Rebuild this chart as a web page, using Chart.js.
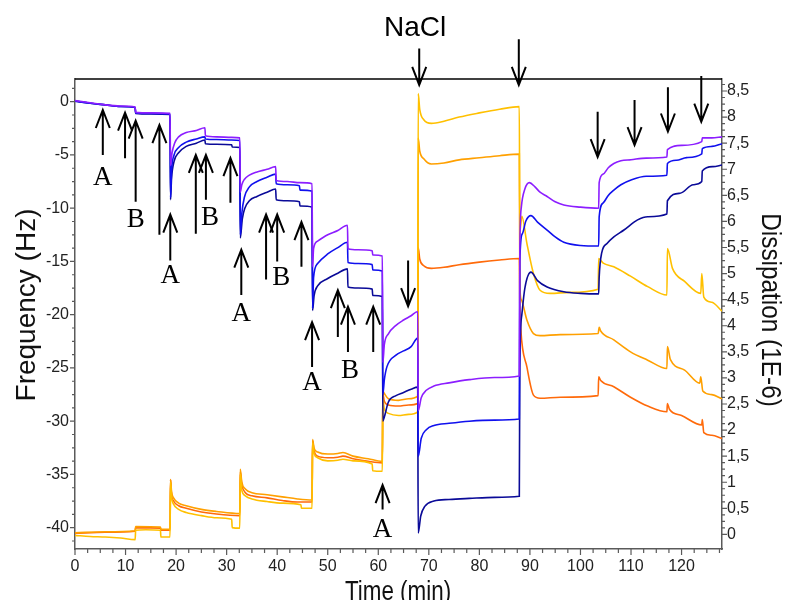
<!DOCTYPE html>
<html lang="en">
<head>
<meta charset="UTF-8">
<title>QCM-D Frequency / Dissipation</title>
<script src="https://cdn.jsdelivr.net/npm/chart.js"></script>
<style>
  html, body { margin: 0; padding: 0; background: #fff; }
  #wrap { width: 787px; height: 600px; }
</style>
</head>
<body>
<div id="wrap"><canvas id="qcm" width="787" height="600"></canvas></div>
<script>
  // axis labels
  const timeTicks = [0, 10, 20, 30, 40, 50, 60, 70, 80, 90, 100, 110, 120];
  const freqTicks = [0, -5, -10, -15, -20, -25, -30, -35, -40];
  const dissTicks = [0, 0.5, 1, 1.5, 2, 2.5, 3, 3.5, 4, 4.5, 5, 5.5, 6, 6.5, 7, 7.5, 8, 8.5];

  // frequency (Hz) vs time (min)
  const freqPurple = [[0,0.1],[3,-0.1],[6,-0.3],[9,-0.4],[11.9,-0.5],[12.0,-1.0],[15,-1.05],[18.8,-1.1],
    [18.9,-6.0],[19.2,-4.8],[19.7,-3.9],[20.5,-3.3],[22,-2.9],[24,-2.7],[25.7,-2.45],[25.8,-3.2],[28,-3.3],[31,-3.35],[32.6,-3.4],
    [32.7,-8.5],[33.0,-7.8],[33.5,-7.3],[34.5,-6.9],[36,-6.6],[38,-6.35],[39.7,-6.1],[39.8,-7.4],[42,-7.5],[44.5,-7.6],[46.9,-7.7],
    [47.0,-15.5],[47.2,-13.8],[48,-13.1],[50,-12.5],[52,-12.1],[53.9,-11.6],[54.0,-13.8],[56,-13.9],[58.8,-14.0],[58.9,-14.4],[60.8,-14.5],
    [60.9,-24.5],[61.2,-22.8],[62,-21.8],[63.5,-21.0],[65,-20.5],[66.5,-20.1],[67.8,-19.7],
    [67.9,-29.0],[68.5,-27.8],[69.5,-27.1],[71,-26.7],[74,-26.4],[78,-26.1],[83,-25.9],[87.9,-25.75],
    [88.0,-14],[88.3,-9.9],[89,-8.2],[89.9,-7.6],[91,-8.0],[92,-8.5],[93.4,-8.9],[95,-9.4],[96.7,-9.7],[100,-9.9],[103.6,-10.0],
    [103.7,-7.6],[104.5,-6.8],[105.5,-6.2],[106.6,-5.8],[108,-5.55],[110,-5.45],[113,-5.3],[117.1,-5.2],[117.2,-4.5],[120,-4.1],[124,-3.75],[124.1,-3.4],[126,-3.4],[128,-3.3]];

  const freqBlue = [[0,0.05],[3,-0.15],[6,-0.3],[9,-0.45],[11.9,-0.55],[12.0,-1.05],[15,-1.1],[18.8,-1.15],
    [18.9,-9.0],[19.1,-6.5],[19.6,-5.0],[20.5,-4.3],[22,-3.8],[24,-3.5],[25.7,-3.3],[25.8,-3.5],[28,-3.55],[31,-3.6],[32.6,-3.65],
    [32.7,-12.5],[33.0,-10.5],[33.5,-9.0],[34.5,-8.0],[36,-7.5],[38,-7.1],[39.7,-6.8],[39.8,-7.7],[42,-7.8],[44.4,-7.9],[44.5,-8.3],[46.9,-8.4],
    [47.0,-19.4],[47.2,-16.5],[48,-15.2],[50,-14.3],[52,-13.7],[53.9,-13.2],[54.0,-15.1],[56,-15.2],[58.8,-15.3],[58.9,-15.8],[60.8,-15.9],
    [60.9,-27.5],[61.2,-26.1],[61.7,-24.9],[63.5,-23.8],[65,-23.4],[66.5,-23.0],[67.8,-22.2],
    [67.9,-33.3],[68.5,-31.6],[69.5,-30.8],[71,-30.4],[74,-30.2],[78,-30.0],[83,-29.9],[87.9,-29.8],
    [88.0,-15],[88.5,-12.4],[89.2,-11.2],[90.2,-10.7],[91.5,-11.3],[93.4,-12.05],[95,-12.7],[96.7,-13.2],[100,-13.5],[103.6,-13.55],
    [103.7,-10.8],[104.5,-9.5],[105.5,-8.8],[106.6,-8.3],[108,-7.8],[110,-7.35],[113,-7.0],[117.1,-6.9],[117.2,-5.8],[119,-5.5],[121,-5.25],[124,-4.9],[124.1,-4.4],[126,-4.2],[128,-3.95]];

  const freqNavy = [[0,0.05],[3,-0.15],[6,-0.3],[9,-0.45],[11.9,-0.55],[12.0,-1.1],[15,-1.15],[18.8,-1.2],
    [18.9,-9.2],[19.1,-7.2],[19.6,-5.6],[20.5,-4.8],[22,-4.2],[24,-3.9],[25.7,-3.6],[25.8,-3.95],[28,-4.0],[31,-4.05],[31.1,-4.25],[32.6,-4.3],
    [32.7,-12.8],[33.1,-11.0],[33.6,-10.0],[34.5,-9.3],[36,-8.9],[38,-8.5],[39.7,-8.2],[39.8,-9.2],[42,-9.3],[44.4,-9.4],[44.5,-9.8],[46.9,-9.9],
    [47.0,-19.6],[47.3,-18.2],[48,-17.3],[50,-16.6],[52,-16.1],[53.9,-15.7],[54.0,-17.4],[56,-17.5],[58.8,-17.6],[58.9,-18.2],[60.8,-18.3],
    [60.9,-30.0],[61.2,-29.6],[62,-28.2],[63.5,-27.6],[65,-27.3],[66.5,-27.0],[67.8,-26.8],
    [67.9,-40.5],[68.4,-38.9],[69.2,-38.0],[71,-37.5],[74,-37.35],[78,-37.25],[83,-37.15],[87.9,-37.05],
    [88.0,-25],[88.4,-20],[89,-17.5],[90.2,-16.0],[91.5,-16.8],[93.4,-17.4],[96.7,-17.85],[100,-18.0],[103.6,-18.05],
    [103.7,-16.5],[104.2,-14.2],[105.3,-13.3],[106.6,-12.7],[108.6,-12.05],[111.3,-11.1],[113.3,-10.8],[117.1,-10.55],[117.2,-9.3],[119.7,-8.6],[122.3,-7.8],[124,-7.5],[124.1,-6.5],[126.2,-6.1],[128,-5.95]];

  // dissipation (1E-6) vs time (min)
  const dissGold = [[0,-0.02],[3,-0.04],[6,-0.05],[9,-0.07],[11.9,-0.1],[12.0,0.08],[14,0.09],[16.9,0.08],[17.0,-0.05],[18.8,-0.05],
    [18.9,1.0],[19.1,0.72],[19.5,0.58],[20.5,0.48],[22,0.42],[25,0.36],[28,0.32],[31,0.29],[31.1,0.13],[32.6,0.12],
    [32.7,1.15],[33.0,0.85],[33.7,0.74],[35,0.68],[38,0.63],[41,0.6],[44.7,0.57],[44.8,0.5],[46.9,0.5],
    [47.0,1.75],[47.3,1.55],[48,1.47],[50,1.41],[52,1.42],[53,1.44],[55,1.41],[58.8,1.35],[58.9,1.22],[60.8,1.21],
    [60.9,2.6],[61.2,2.4],[62,2.32],[64,2.28],[66,2.3],[67.8,2.35],
    [67.9,8.45],[68.2,8.15],[69,7.95],[70.5,7.88],[73,7.92],[76,8.0],[80,8.08],[84,8.15],[87.9,8.2],
    [88.0,5.8],[88.4,6.1],[89.4,5.58],[90.7,5.0],[92,4.68],[94,4.62],[98,4.64],[103.5,4.7],[103.6,5.29],[104.5,5.2],[106.6,5.13],[109.9,4.95],[113.3,4.75],[117.1,4.59],[117.2,5.48],[118.2,5.1],[120.6,4.85],[123.8,4.62],[124.0,5.0],[124.4,4.55],[126,4.45],[128,4.28]];

  const dissOrange = [[0,0.03],[6,0.05],[11.9,0.07],[12.0,0.15],[16.9,0.14],[17.0,0.1],[18.8,0.1],
    [18.9,1.05],[19.1,0.82],[19.5,0.7],[20.5,0.6],[22,0.55],[25,0.48],[28,0.44],[32.6,0.4],
    [32.7,1.25],[33.0,1.0],[33.7,0.87],[35,0.8],[38,0.76],[41,0.72],[44,0.68],[46.9,0.66],
    [47.0,1.82],[47.3,1.65],[48,1.58],[50,1.54],[52,1.55],[53,1.57],[55,1.5],[58,1.45],[60.8,1.4],
    [60.9,2.75],[61.2,2.7],[62,2.6],[64,2.57],[66,2.6],[67.8,2.65],
    [67.9,7.6],[68.2,7.35],[69,7.2],[70.5,7.1],[73,7.12],[76,7.18],[80,7.22],[84,7.26],[87.9,7.29],
    [88.0,4.8],[88.3,4.5],[89.4,4.11],[90.7,3.85],[92,3.81],[96,3.83],[103.5,3.85],[103.7,3.97],[104,3.9],[106.6,3.73],[109.9,3.5],[113.3,3.34],[117.1,3.18],[117.2,3.6],[117.8,3.35],[120.6,3.15],[123.6,2.9],[123.8,3.02],[124.2,2.75],[126,2.68],[128,2.6]];

  const dissDarkOrange = [[0,0.02],[6,0.04],[11.9,0.06],[12.0,0.13],[16.9,0.12],[17.0,0.08],[18.8,0.08],
    [18.9,1.05],[19.1,0.76],[19.5,0.64],[20.5,0.55],[22,0.5],[25,0.43],[28,0.39],[32.6,0.36],
    [32.7,1.2],[33.0,0.95],[33.7,0.8],[35,0.74],[38,0.7],[41,0.65],[44,0.62],[46.9,0.62],
    [47.0,1.8],[47.3,1.6],[48,1.5],[50,1.47],[52,1.48],[53,1.5],[55,1.45],[58,1.4],[60.8,1.37],
    [60.9,2.7],[61.2,2.55],[62,2.48],[64,2.46],[66,2.48],[67.8,2.51],
    [67.9,5.5],[68.2,5.28],[69,5.15],[70.5,5.1],[73,5.12],[76,5.17],[80,5.22],[84,5.26],[87.9,5.29],
    [88.0,4.4],[88.2,3.92],[89.4,3.21],[90.7,2.67],[92,2.61],[96,2.63],[103.5,2.66],[103.6,3.02],[104,2.95],[106.6,2.83],[109.9,2.63],[113.3,2.46],[117.1,2.35],[117.2,2.51],[117.6,2.4],[120,2.28],[124,2.1],[124.1,2.2],[124.4,1.95],[126,1.9],[128,1.84]];

  // injection arrows, in time / frequency units: [t, tip, tail]
  const upArrows = [[5.5,-0.78,-5.0],[9.9,-1.03,-5.3],[12.0,-1.78,-9.4],[16.7,-2.2,-12.5],[18.85,-10.6,-14.9],
    [23.9,-5.0,-12.4],[25.9,-5.0,-9.2],[30.75,-5.3,-9.5],[32.9,-13.9,-18.15],[37.8,-10.6,-16.7],
    [40.0,-10.6,-15.0],[44.8,-11.3,-15.5],[46.9,-20.7,-24.9],[52.0,-17.7,-22.1],[54.0,-19.25,-23.5],
    [59.0,-19.25,-23.5],[60.85,-36.0,-38.3]];
  const downArrows = [[65.9,-19.2,-14.9],[68.1,1.57,5.0],[87.8,1.57,5.86],[103.4,-5.2,-0.94],
    [110.7,-4.07,0.16],[117.3,-2.8,1.35],[123.9,-1.88,2.41]];
  // letters: [text, t, baseline frequency]
  const letterLabels = [['A',5.5,-7.82],['B',12.0,-11.74],['A',18.85,-17.05],['B',26.7,-11.58],
    ['A',32.9,-20.56],['B',40.8,-17.2],['A',46.9,-27.1],['B',54.4,-25.9],['A',60.85,-40.85]];
  const naclLabel = ['NaCl', 67.3, 6.2];

  function tickRange(min, max, step) {
    const out = [];
    for (let i = Math.ceil(min / step - 1e-9); i * step <= max + 1e-9; i++) out.push(+(i * step).toFixed(4));
    return out;
  }
  const isMajor = (list, v) => list.some(m => Math.abs(m - v) < 1e-6);

  const axisFont = { family: "'Liberation Sans', Arial, sans-serif", size: 16 };

  // small tick marks, longer on labelled values
  const tickMarks = {
    id: 'tickMarks',
    afterDraw(chart) {
      const { ctx, chartArea: a, scales } = chart;
      ctx.save();
      ctx.strokeStyle = '#5a5a5a';
      ctx.lineWidth = 1.2;
      ctx.beginPath();
      scales.x.ticks.forEach(t => {
        const px = scales.x.getPixelForValue(t.value);
        const len = isMajor(timeTicks, t.value) ? 6 : 4;
        ctx.moveTo(px, a.bottom); ctx.lineTo(px, a.bottom + len);
      });
      scales.y.ticks.forEach(t => {
        const py = scales.y.getPixelForValue(t.value);
        const len = isMajor(freqTicks, t.value) ? 5 : 3;
        ctx.moveTo(a.left, py); ctx.lineTo(a.left - len, py);
      });
      scales.y2.ticks.forEach(t => {
        const py = scales.y2.getPixelForValue(t.value);
        const len = isMajor(dissTicks, t.value) ? 5 : 3;
        ctx.moveTo(a.right, py); ctx.lineTo(a.right + len, py);
      });
      ctx.stroke();
      // top frame line
      ctx.strokeStyle = '#000';
      ctx.lineWidth = 1.5;
      ctx.beginPath();
      ctx.moveTo(a.left, a.top); ctx.lineTo(a.right, a.top);
      ctx.stroke();
      ctx.restore();
    }
  };

  function drawArrow(ctx, x, yTip, yTail) {
    const dir = yTail > yTip ? 1 : -1;
    ctx.beginPath();
    ctx.moveTo(x, yTail); ctx.lineTo(x, yTip);
    ctx.moveTo(x - 7, yTip + dir * 18); ctx.lineTo(x, yTip); ctx.lineTo(x + 7, yTip + dir * 18);
    ctx.stroke();
  }

  const annotations = {
    id: 'annotations',
    afterDraw(chart) {
      const { ctx, scales: { x, y } } = chart;
      ctx.save();
      ctx.strokeStyle = '#000';
      ctx.lineWidth = 2;
      upArrows.concat(downArrows).forEach(([t, tip, tail]) => {
        drawArrow(ctx, x.getPixelForValue(t), y.getPixelForValue(tip), y.getPixelForValue(tail));
      });
      ctx.fillStyle = '#000';
      ctx.textAlign = 'center';
      ctx.textBaseline = 'alphabetic';
      ctx.font = "27px 'Liberation Serif', 'Times New Roman', serif";
      letterLabels.forEach(([s, t, v]) => ctx.fillText(s, x.getPixelForValue(t), y.getPixelForValue(v)));
      ctx.font = "28px 'Liberation Sans', Arial, sans-serif";
      ctx.fillText(naclLabel[0], x.getPixelForValue(naclLabel[1]), y.getPixelForValue(naclLabel[2]));

      // axis titles
      ctx.fillStyle = '#111';
      ctx.save();
      ctx.translate(35, 305);
      ctx.rotate(-Math.PI / 2);
      ctx.fillText('Frequency (Hz)', 0, 0);
      ctx.restore();
      ctx.save();
      ctx.translate(762, 310);
      ctx.rotate(Math.PI / 2);
      ctx.scale(0.87, 1);
      ctx.fillText('Dissipation (1E-6)', 0, 0);
      ctx.restore();
      ctx.save();
      ctx.translate(398, 600);
      ctx.scale(0.8, 1);
      ctx.fillText('Time (min)', 0, 0);
      ctx.restore();
      ctx.restore();
    }
  };

  const line = (data, color, axis) => ({
    data, borderColor: color, yAxisID: axis,
    borderWidth: 1.6, pointRadius: 0, fill: false,
    cubicInterpolationMode: 'monotone'
  });

  new Chart(document.getElementById('qcm'), {
    type: 'line',
    data: {
      datasets: [
        line(freqPurple, '#8C1EFF', 'y'),
        line(freqBlue, '#1010EE', 'y'),
        line(freqNavy, '#0A0A98', 'y'),
        line(dissGold, '#FFC000', 'y2'),
        line(dissOrange, '#FFA000', 'y2'),
        line(dissDarkOrange, '#FF6A0A', 'y2')
      ]
    },
    options: {
      responsive: false,
      animation: false,
      devicePixelRatio: 1,
      layout: { padding: { top: 79, left: 0, right: 0, bottom: 0 } },
      plugins: { legend: { display: false }, tooltip: { enabled: false } },
      scales: {
        x: {
          type: 'linear', min: 0, max: 128,
          afterFit: s => { s.height = 51; },
          afterBuildTicks: s => { s.ticks = tickRange(0, 128, 2.5).map(v => ({ value: v })); },
          grid: { display: true, drawOnChartArea: false, drawTicks: false },
          border: { color: '#5a5a5a', width: 1.5 },
          ticks: {
            autoSkip: false, maxRotation: 0, padding: 8, color: '#222', font: axisFont,
            callback: v => isMajor(timeTicks, v) ? String(v) : ''
          }
        },
        y: {
          type: 'linear', position: 'left', min: -42, max: 2.13,
          afterFit: s => { s.width = 75; },
          afterBuildTicks: s => { s.ticks = tickRange(-41.25, 1.25, 1.25).map(v => ({ value: v })); },
          grid: { display: true, drawOnChartArea: false, drawTicks: false },
          border: { color: '#5a5a5a', width: 1.5 },
          ticks: {
            autoSkip: false, padding: 6, color: '#222', font: axisFont,
            callback: v => isMajor(freqTicks, v) ? String(v) : ''
          }
        },
        y2: {
          type: 'linear', position: 'right', min: -0.28, max: 8.73,
          afterFit: s => { s.width = 65; },
          afterBuildTicks: s => { s.ticks = tickRange(0, 8.625, 0.125).map(v => ({ value: v })); },
          grid: { display: true, drawOnChartArea: false, drawTicks: false },
          border: { color: '#5a5a5a', width: 1.5 },
          ticks: {
            autoSkip: false, padding: 5, color: '#222', font: axisFont,
            callback: v => isMajor(dissTicks, v) ? String(v).replace('.', ',') : ''
          }
        }
      }
    },
    plugins: [tickMarks, annotations]
  });
</script>
</body>
</html>
